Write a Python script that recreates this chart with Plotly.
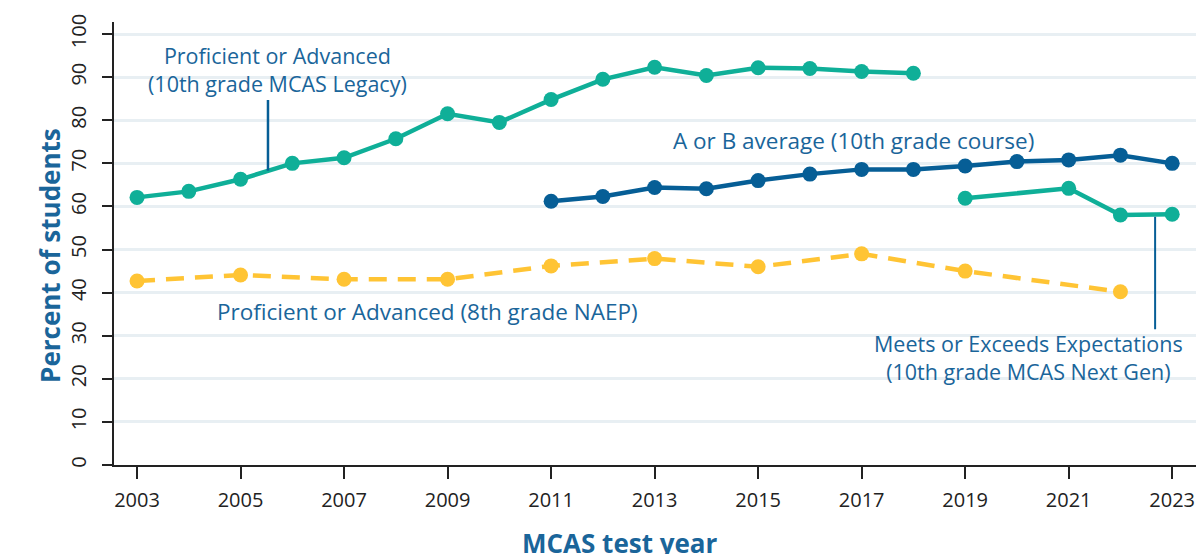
import plotly.graph_objects as go

legacy_years = list(range(2003, 2019))
legacy = [62.1, 63.5, 66.3, 70.0, 71.3, 75.7, 81.5, 79.5, 84.8, 89.5, 92.3, 90.4, 92.2, 92.0, 91.3, 90.9]

ab_years = list(range(2011, 2024))
ab = [61.2, 62.3, 64.4, 64.1, 66.0, 67.5, 68.6, 68.6, 69.4, 70.4, 70.8, 71.9, 70.0]

nextgen_years = [2019, 2021, 2022, 2023]
nextgen = [61.9, 64.2, 58.0, 58.2]

naep_years = [2003, 2005, 2007, 2009, 2011, 2013, 2015, 2017, 2019, 2022]
naep = [42.7, 44.1, 43.1, 43.1, 46.2, 47.9, 46.0, 49.0, 45.0, 40.2]

x_ticks = [2003, 2005, 2007, 2009, 2011, 2013, 2015, 2017, 2019, 2021, 2023]
y_ticks = [0, 10, 20, 30, 40, 50, 60, 70, 80, 90, 100]

TEAL = "#0FAF98"
BLUE = "#065E96"
YELLOW = "#FFC434"
TXT = "#1A659A"
FONT = "Open Sans"

fig = go.Figure()

fig.add_trace(go.Scatter(x=naep_years, y=naep, mode="lines+markers",
                         line=dict(color=YELLOW, width=4.5, dash="18px,11px"),
                         marker=dict(size=15, color=YELLOW), showlegend=False))
fig.add_trace(go.Scatter(x=legacy_years, y=legacy, mode="lines+markers",
                         line=dict(color=TEAL, width=4.5),
                         marker=dict(size=15, color=TEAL), showlegend=False))
fig.add_trace(go.Scatter(x=ab_years, y=ab, mode="lines+markers",
                         line=dict(color=BLUE, width=4.5),
                         marker=dict(size=15, color=BLUE), showlegend=False))
fig.add_trace(go.Scatter(x=nextgen_years, y=nextgen, mode="lines+markers",
                         line=dict(color=TEAL, width=4.5),
                         marker=dict(size=15, color=TEAL), showlegend=False))

# pointer lines
fig.add_shape(type="line", xref="x", yref="y", x0=2005.53, x1=2005.53, y0=84.7, y1=68.3,
              line=dict(color=BLUE, width=2.5), layer="above")
fig.add_shape(type="line", xref="x", yref="y", x0=2022.67, x1=2022.67, y0=57.6, y1=31.5,
              line=dict(color=BLUE, width=2), layer="above")

single_font = dict(family=FONT, size=22.5, color=TXT)
double_font = dict(family=FONT, size=21.5, color=TXT)

fig.add_annotation(x=2005.71, y=91.8, xref="x", yref="y", showarrow=False, align="center",
                   text="Proficient or Advanced<br>(10th grade MCAS Legacy)", font=double_font)
fig.add_annotation(x=2016.84, y=75.4, xref="x", yref="y", showarrow=False,
                   text="A or B average (10th grade course)", font=single_font)
fig.add_annotation(x=2008.62, y=35.7, xref="x", yref="y", showarrow=False,
                   text="Proficient or Advanced (8th grade NAEP)", font=single_font)
fig.add_annotation(x=2020.23, y=24.9, xref="x", yref="y", showarrow=False, align="center",
                   text="Meets or Exceeds Expectations<br>(10th grade MCAS Next Gen)", font=double_font)

# axis titles
fig.add_annotation(x=-0.0776, y=0.472, xref="paper", yref="paper", showarrow=False,
                   text="<b>Percent of students</b>", textangle=-90,
                   font=dict(family=FONT, size=26, color=TXT))
fig.add_annotation(x=0.4677, y=-0.175, xref="paper", yref="paper", showarrow=False,
                   text="<b>MCAS test year</b>", yanchor="middle",
                   font=dict(family=FONT, size=26, color=TXT))

fig.update_layout(
    width=1196, height=554,
    margin=dict(l=114, r=0, t=22, b=89),
    plot_bgcolor="white", paper_bgcolor="white",
    xaxis=dict(range=[2002.555, 2023.46], tickvals=x_ticks, ticks="outside", ticklen=12,
               tickwidth=2, tickcolor="#222", showgrid=False, zeroline=False,
               showline=True, linecolor="#222", linewidth=2, ticklabelstandoff=4,
               tickfont=dict(family=FONT, size=20, color="#222")),
    yaxis=dict(range=[0, 102.8], tickvals=y_ticks, ticks="outside", ticklen=10,
               tickwidth=2, tickcolor="#222", showgrid=True, gridcolor="#E8EFF3", gridwidth=3,
               zeroline=False, showline=True, linecolor="#222", linewidth=2, tickangle=-90,
               ticklabelstandoff=8,
               tickfont=dict(family=FONT, size=20, color="#222")),
)

fig.write_html("out.html", config={"displayModeBar": False},
               post_script="document.body.style.margin='0';document.body.style.overflow='hidden';")
